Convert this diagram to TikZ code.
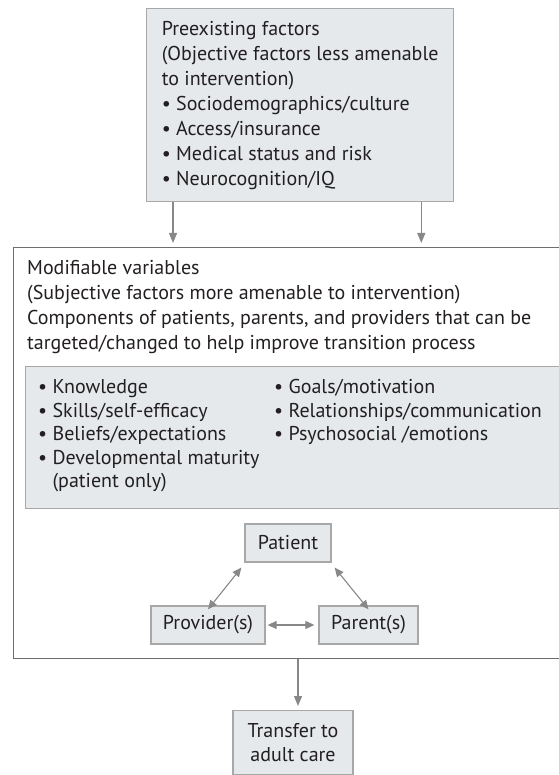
\documentclass[tikz,border=0pt]{standalone}
\usepackage{fontspec}
\setmainfont{PT Sans}
\usetikzlibrary{arrows.meta}
\definecolor{boxfill}{HTML}{E5E9EC}
\definecolor{boxline}{HTML}{A8A8A8}
\definecolor{frameline}{HTML}{6E6E6E}
\definecolor{arrowgray}{HTML}{888888}
\definecolor{ink}{HTML}{231F20}
\tikzset{
  graybox/.style={draw=boxline, fill=boxfill, line width=1.3pt, text=ink},
  framebox/.style={draw=frameline, line width=1.4pt},
  plain/.style={text=ink, inner sep=0pt, align=left},
  arr/.style={draw=arrowgray, line width=1.2pt, -{Triangle[length=10pt,width=8pt]}},
  dblarr/.style={draw=arrowgray, line width=1.1pt, {Triangle[length=9pt,width=8pt]}-{Triangle[length=9pt,width=8pt]}}
}
\begin{document}
\begin{tikzpicture}[x=1pt,y=-1pt,font=\fontsize{20}{25}\selectfont]
  \useasboundingbox (0,0) rectangle (558,775);
  \draw
    (146,8) node[graybox, anchor=north west, minimum width=307, minimum height=193,
      inner xsep=12pt, align=left] (pre)
      {Preexisting factors\\
       (Objective factors less amenable\\
       to intervention)\\
       • Sociodemographics/culture\\
       • Access/insurance\\
       • Medical status and risk\\
       • Neurocognition/IQ}
    (13,247) node[framebox, anchor=north west, minimum width=560, minimum height=411] (mod) {}
    (27,260.5) node[plain, anchor=north west] (modtext)
      {Modifiable variables\\
       (Subjective factors more amenable to intervention)\\
       Components of patients, parents, and providers that can be\\
       targeted/changed to help improve transition process}
    (25,366) node[graybox, anchor=north west, minimum width=550, minimum height=142] (items) {}
    (38,379.5) node[plain, anchor=north west, font=\fontsize{20}{23.5}\selectfont] (itemsleft)
      {• Knowledge\\
       • Skills/self-efficacy\\
       • Beliefs/expectations\\
       • Developmental maturity\\
       \phantom{• }(patient only)}
    (274,379.5) node[plain, anchor=north west, font=\fontsize{20}{23.5}\selectfont] (itemsright)
      {• Goals/motivation\\
       • Relationships/communication\\
       • Psychosocial /emotions}
    (288,543) node[graybox, minimum width=86, minimum height=38] (patient) {Patient}
    (208,625) node[graybox, minimum width=114, minimum height=38] (provider) {Provider(s)}
    (368.5,625) node[graybox, minimum width=99, minimum height=38] (parent) {Parent(s)}
    (293,710) node[graybox, anchor=north, minimum width=120, inner ysep=13pt,
      align=center, font=\fontsize{20}{24}\selectfont] (transfer)
      {Transfer to\\adult care};
  \begin{scope}[arr, shorten >=4pt]
    \draw ([xshift=27]pre.south west) to ([xshift=27]pre.south west |- mod.north);
    \draw ([xshift=-33]pre.south east) to ([xshift=-33]pre.south east |- mod.north);
    \draw ([xshift=5]transfer.north |- mod.south) to ([xshift=5]transfer.north);
  \end{scope}
  \begin{scope}[dblarr]
    \draw ([shift={(-3,5)}]patient.south west) to ([yshift=-4]provider.north);
    \draw ([shift={(3,5)}]patient.south east) to ([yshift=-4]parent.north);
    \draw ([xshift=2]provider.east) to ([xshift=-4]parent.west);
  \end{scope}
\end{tikzpicture}
\end{document}
